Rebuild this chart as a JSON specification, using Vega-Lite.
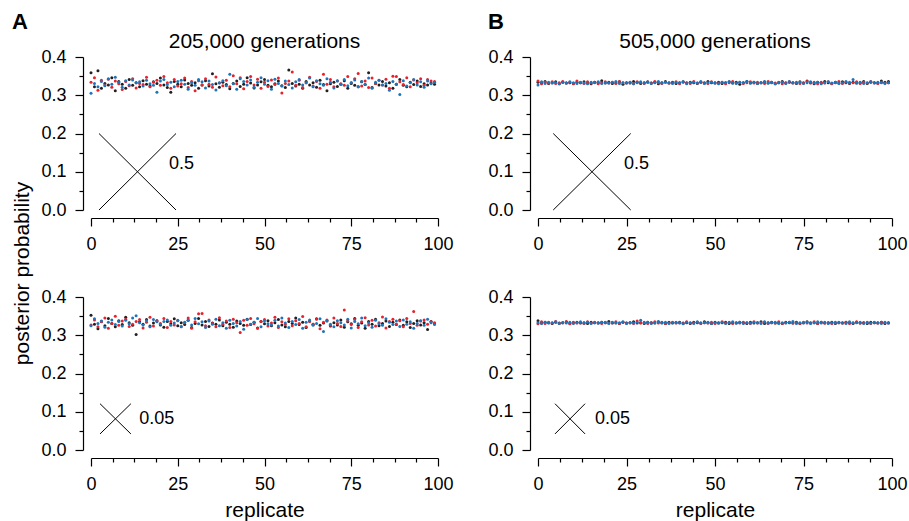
{
"$schema":"https://vega.github.io/schema/vega-lite/v6.json",
"padding":{"left":11,"top":11,"right":5,"bottom":5},
"config":{"font":"Liberation Sans","view":{"stroke":null},
"axis":{"grid":false,"offset":8,"domainColor":"#000","tickColor":"#000","labelColor":"#000","titleColor":"#000","labelFontSize":18,"titleFontSize":21,"titleFontWeight":"normal","labelFlush":false,"labelOverlap":false,"domainWidth":1.2,"tickWidth":1.2},
"title":{"fontSize":21,"fontWeight":"normal","color":"#000"}},
"datasets":{
"a":[
{"r":0,"s":"k","v":0.359},{"r":1,"s":"k","v":0.322},{"r":2,"s":"k","v":0.364},{"r":3,"s":"k","v":0.318},{"r":4,"s":"k","v":0.331},{"r":5,"s":"k","v":0.327},{"r":6,"s":"k","v":0.346},{"r":7,"s":"k","v":0.312},{"r":8,"s":"k","v":0.336},{"r":9,"s":"k","v":0.329},
{"r":10,"s":"k","v":0.318},{"r":11,"s":"k","v":0.341},{"r":12,"s":"k","v":0.326},{"r":13,"s":"k","v":0.333},{"r":14,"s":"k","v":0.322},{"r":15,"s":"k","v":0.338},{"r":16,"s":"k","v":0.329},{"r":17,"s":"k","v":0.324},{"r":18,"s":"k","v":0.335},{"r":19,"s":"k","v":0.331},
{"r":20,"s":"k","v":0.345},{"r":21,"s":"k","v":0.327},{"r":22,"s":"k","v":0.320},{"r":23,"s":"k","v":0.308},{"r":24,"s":"k","v":0.336},{"r":25,"s":"k","v":0.329},{"r":26,"s":"k","v":0.322},{"r":27,"s":"k","v":0.340},{"r":28,"s":"k","v":0.331},{"r":29,"s":"k","v":0.326},
{"r":30,"s":"k","v":0.333},{"r":31,"s":"k","v":0.318},{"r":32,"s":"k","v":0.327},{"r":33,"s":"k","v":0.338},{"r":34,"s":"k","v":0.324},{"r":35,"s":"k","v":0.356},{"r":36,"s":"k","v":0.330},{"r":37,"s":"k","v":0.321},{"r":38,"s":"k","v":0.334},{"r":39,"s":"k","v":0.328},
{"r":40,"s":"k","v":0.317},{"r":41,"s":"k","v":0.331},{"r":42,"s":"k","v":0.337},{"r":43,"s":"k","v":0.323},{"r":44,"s":"k","v":0.329},{"r":45,"s":"k","v":0.346},{"r":46,"s":"k","v":0.332},{"r":47,"s":"k","v":0.319},{"r":48,"s":"k","v":0.327},{"r":49,"s":"k","v":0.335},
{"r":50,"s":"k","v":0.341},{"r":51,"s":"k","v":0.326},{"r":52,"s":"k","v":0.322},{"r":53,"s":"k","v":0.330},{"r":54,"s":"k","v":0.337},{"r":55,"s":"k","v":0.325},{"r":56,"s":"k","v":0.320},{"r":57,"s":"k","v":0.366},{"r":58,"s":"k","v":0.331},{"r":59,"s":"k","v":0.324},
{"r":60,"s":"k","v":0.329},{"r":61,"s":"k","v":0.318},{"r":62,"s":"k","v":0.336},{"r":63,"s":"k","v":0.327},{"r":64,"s":"k","v":0.333},{"r":65,"s":"k","v":0.321},{"r":66,"s":"k","v":0.339},{"r":67,"s":"k","v":0.328},{"r":68,"s":"k","v":0.312},{"r":69,"s":"k","v":0.330},
{"r":70,"s":"k","v":0.334},{"r":71,"s":"k","v":0.323},{"r":72,"s":"k","v":0.329},{"r":73,"s":"k","v":0.338},{"r":74,"s":"k","v":0.318},{"r":75,"s":"k","v":0.331},{"r":76,"s":"k","v":0.326},{"r":77,"s":"k","v":0.322},{"r":78,"s":"k","v":0.335},{"r":79,"s":"k","v":0.328},
{"r":80,"s":"k","v":0.359},{"r":81,"s":"k","v":0.320},{"r":82,"s":"k","v":0.331},{"r":83,"s":"k","v":0.327},{"r":84,"s":"k","v":0.336},{"r":85,"s":"k","v":0.324},{"r":86,"s":"k","v":0.333},{"r":87,"s":"k","v":0.318},{"r":88,"s":"k","v":0.329},{"r":89,"s":"k","v":0.341},
{"r":90,"s":"k","v":0.326},{"r":91,"s":"k","v":0.322},{"r":92,"s":"k","v":0.334},{"r":93,"s":"k","v":0.328},{"r":94,"s":"k","v":0.337},{"r":95,"s":"k","v":0.323},{"r":96,"s":"k","v":0.330},{"r":97,"s":"k","v":0.327},{"r":98,"s":"k","v":0.332},{"r":99,"s":"k","v":0.329},
{"r":0,"s":"e","v":0.334},{"r":1,"s":"e","v":0.346},{"r":2,"s":"e","v":0.313},{"r":3,"s":"e","v":0.339},{"r":4,"s":"e","v":0.327},{"r":5,"s":"e","v":0.342},{"r":6,"s":"e","v":0.321},{"r":7,"s":"e","v":0.337},{"r":8,"s":"e","v":0.330},{"r":9,"s":"e","v":0.315},
{"r":10,"s":"e","v":0.336},{"r":11,"s":"e","v":0.325},{"r":12,"s":"e","v":0.343},{"r":13,"s":"e","v":0.319},{"r":14,"s":"e","v":0.331},{"r":15,"s":"e","v":0.328},{"r":16,"s":"e","v":0.347},{"r":17,"s":"e","v":0.322},{"r":18,"s":"e","v":0.334},{"r":19,"s":"e","v":0.339},
{"r":20,"s":"e","v":0.326},{"r":21,"s":"e","v":0.349},{"r":22,"s":"e","v":0.333},{"r":23,"s":"e","v":0.318},{"r":24,"s":"e","v":0.341},{"r":25,"s":"e","v":0.324},{"r":26,"s":"e","v":0.330},{"r":27,"s":"e","v":0.345},{"r":28,"s":"e","v":0.320},{"r":29,"s":"e","v":0.336},
{"r":30,"s":"e","v":0.312},{"r":31,"s":"e","v":0.338},{"r":32,"s":"e","v":0.327},{"r":33,"s":"e","v":0.343},{"r":34,"s":"e","v":0.329},{"r":35,"s":"e","v":0.321},{"r":36,"s":"e","v":0.348},{"r":37,"s":"e","v":0.333},{"r":38,"s":"e","v":0.325},{"r":39,"s":"e","v":0.339},
{"r":40,"s":"e","v":0.322},{"r":41,"s":"e","v":0.351},{"r":42,"s":"e","v":0.330},{"r":43,"s":"e","v":0.346},{"r":44,"s":"e","v":0.317},{"r":45,"s":"e","v":0.336},{"r":46,"s":"e","v":0.349},{"r":47,"s":"e","v":0.327},{"r":48,"s":"e","v":0.342},{"r":49,"s":"e","v":0.318},
{"r":50,"s":"e","v":0.334},{"r":51,"s":"e","v":0.323},{"r":52,"s":"e","v":0.340},{"r":53,"s":"e","v":0.328},{"r":54,"s":"e","v":0.345},{"r":55,"s":"e","v":0.306},{"r":56,"s":"e","v":0.331},{"r":57,"s":"e","v":0.337},{"r":58,"s":"e","v":0.361},{"r":59,"s":"e","v":0.326},
{"r":60,"s":"e","v":0.339},{"r":61,"s":"e","v":0.320},{"r":62,"s":"e","v":0.333},{"r":63,"s":"e","v":0.347},{"r":64,"s":"e","v":0.324},{"r":65,"s":"e","v":0.336},{"r":66,"s":"e","v":0.318},{"r":67,"s":"e","v":0.355},{"r":68,"s":"e","v":0.329},{"r":69,"s":"e","v":0.341},
{"r":70,"s":"e","v":0.322},{"r":71,"s":"e","v":0.338},{"r":72,"s":"e","v":0.330},{"r":73,"s":"e","v":0.326},{"r":74,"s":"e","v":0.349},{"r":75,"s":"e","v":0.333},{"r":76,"s":"e","v":0.343},{"r":77,"s":"e","v":0.357},{"r":78,"s":"e","v":0.324},{"r":79,"s":"e","v":0.337},
{"r":80,"s":"e","v":0.320},{"r":81,"s":"e","v":0.345},{"r":82,"s":"e","v":0.331},{"r":83,"s":"e","v":0.339},{"r":84,"s":"e","v":0.327},{"r":85,"s":"e","v":0.342},{"r":86,"s":"e","v":0.318},{"r":87,"s":"e","v":0.350},{"r":88,"s":"e","v":0.349},{"r":89,"s":"e","v":0.335},
{"r":90,"s":"e","v":0.328},{"r":91,"s":"e","v":0.346},{"r":92,"s":"e","v":0.322},{"r":93,"s":"e","v":0.340},{"r":94,"s":"e","v":0.333},{"r":95,"s":"e","v":0.343},{"r":96,"s":"e","v":0.326},{"r":97,"s":"e","v":0.341},{"r":98,"s":"e","v":0.337},{"r":99,"s":"e","v":0.336},
{"r":0,"s":"b","v":0.305},{"r":1,"s":"b","v":0.331},{"r":2,"s":"b","v":0.322},{"r":3,"s":"b","v":0.336},{"r":4,"s":"b","v":0.325},{"r":5,"s":"b","v":0.343},{"r":6,"s":"b","v":0.329},{"r":7,"s":"b","v":0.347},{"r":8,"s":"b","v":0.334},{"r":9,"s":"b","v":0.321},
{"r":10,"s":"b","v":0.338},{"r":11,"s":"b","v":0.327},{"r":12,"s":"b","v":0.340},{"r":13,"s":"b","v":0.333},{"r":14,"s":"b","v":0.335},{"r":15,"s":"b","v":0.324},{"r":16,"s":"b","v":0.339},{"r":17,"s":"b","v":0.330},{"r":18,"s":"b","v":0.326},{"r":19,"s":"b","v":0.308},
{"r":20,"s":"b","v":0.337},{"r":21,"s":"b","v":0.341},{"r":22,"s":"b","v":0.328},{"r":23,"s":"b","v":0.334},{"r":24,"s":"b","v":0.322},{"r":25,"s":"b","v":0.336},{"r":26,"s":"b","v":0.339},{"r":27,"s":"b","v":0.329},{"r":28,"s":"b","v":0.316},{"r":29,"s":"b","v":0.333},
{"r":30,"s":"b","v":0.326},{"r":31,"s":"b","v":0.341},{"r":32,"s":"b","v":0.335},{"r":33,"s":"b","v":0.319},{"r":34,"s":"b","v":0.337},{"r":35,"s":"b","v":0.328},{"r":36,"s":"b","v":0.314},{"r":37,"s":"b","v":0.332},{"r":38,"s":"b","v":0.338},{"r":39,"s":"b","v":0.325},
{"r":40,"s":"b","v":0.355},{"r":41,"s":"b","v":0.330},{"r":42,"s":"b","v":0.316},{"r":43,"s":"b","v":0.343},{"r":44,"s":"b","v":0.336},{"r":45,"s":"b","v":0.327},{"r":46,"s":"b","v":0.340},{"r":47,"s":"b","v":0.321},{"r":48,"s":"b","v":0.334},{"r":49,"s":"b","v":0.346},
{"r":50,"s":"b","v":0.329},{"r":51,"s":"b","v":0.338},{"r":52,"s":"b","v":0.316},{"r":53,"s":"b","v":0.342},{"r":54,"s":"b","v":0.331},{"r":55,"s":"b","v":0.324},{"r":56,"s":"b","v":0.337},{"r":57,"s":"b","v":0.328},{"r":58,"s":"b","v":0.319},{"r":59,"s":"b","v":0.335},
{"r":60,"s":"b","v":0.341},{"r":61,"s":"b","v":0.327},{"r":62,"s":"b","v":0.333},{"r":63,"s":"b","v":0.345},{"r":64,"s":"b","v":0.322},{"r":65,"s":"b","v":0.338},{"r":66,"s":"b","v":0.330},{"r":67,"s":"b","v":0.326},{"r":68,"s":"b","v":0.343},{"r":69,"s":"b","v":0.334},
{"r":70,"s":"b","v":0.319},{"r":71,"s":"b","v":0.337},{"r":72,"s":"b","v":0.329},{"r":73,"s":"b","v":0.341},{"r":74,"s":"b","v":0.325},{"r":75,"s":"b","v":0.333},{"r":76,"s":"b","v":0.340},{"r":77,"s":"b","v":0.322},{"r":78,"s":"b","v":0.336},{"r":79,"s":"b","v":0.328},
{"r":80,"s":"b","v":0.345},{"r":81,"s":"b","v":0.318},{"r":82,"s":"b","v":0.334},{"r":83,"s":"b","v":0.339},{"r":84,"s":"b","v":0.327},{"r":85,"s":"b","v":0.331},{"r":86,"s":"b","v":0.313},{"r":87,"s":"b","v":0.336},{"r":88,"s":"b","v":0.329},{"r":89,"s":"b","v":0.302},
{"r":90,"s":"b","v":0.338},{"r":91,"s":"b","v":0.324},{"r":92,"s":"b","v":0.333},{"r":93,"s":"b","v":0.341},{"r":94,"s":"b","v":0.327},{"r":95,"s":"b","v":0.335},{"r":96,"s":"b","v":0.321},{"r":97,"s":"b","v":0.337},{"r":98,"s":"b","v":0.330},{"r":99,"s":"b","v":0.334}
],
"c":[
{"r":0,"s":"k","v":0.352},{"r":1,"s":"k","v":0.329},{"r":2,"s":"k","v":0.317},{"r":3,"s":"k","v":0.336},{"r":4,"s":"k","v":0.325},{"r":5,"s":"k","v":0.344},{"r":6,"s":"k","v":0.331},{"r":7,"s":"k","v":0.322},{"r":8,"s":"k","v":0.338},{"r":9,"s":"k","v":0.328},
{"r":10,"s":"k","v":0.347},{"r":11,"s":"k","v":0.333},{"r":12,"s":"k","v":0.326},{"r":13,"s":"k","v":0.302},{"r":14,"s":"k","v":0.335},{"r":15,"s":"k","v":0.329},{"r":16,"s":"k","v":0.341},{"r":17,"s":"k","v":0.324},{"r":18,"s":"k","v":0.332},{"r":19,"s":"k","v":0.338},
{"r":20,"s":"k","v":0.327},{"r":21,"s":"k","v":0.321},{"r":22,"s":"k","v":0.336},{"r":23,"s":"k","v":0.330},{"r":24,"s":"k","v":0.343},{"r":25,"s":"k","v":0.325},{"r":26,"s":"k","v":0.333},{"r":27,"s":"k","v":0.328},{"r":28,"s":"k","v":0.339},{"r":29,"s":"k","v":0.320},
{"r":30,"s":"k","v":0.331},{"r":31,"s":"k","v":0.344},{"r":32,"s":"k","v":0.327},{"r":33,"s":"k","v":0.336},{"r":34,"s":"k","v":0.323},{"r":35,"s":"k","v":0.332},{"r":36,"s":"k","v":0.329},{"r":37,"s":"k","v":0.340},{"r":38,"s":"k","v":0.325},{"r":39,"s":"k","v":0.334},
{"r":40,"s":"k","v":0.329},{"r":41,"s":"k","v":0.321},{"r":42,"s":"k","v":0.337},{"r":43,"s":"k","v":0.331},{"r":44,"s":"k","v":0.326},{"r":45,"s":"k","v":0.342},{"r":46,"s":"k","v":0.328},{"r":47,"s":"k","v":0.334},{"r":48,"s":"k","v":0.319},{"r":49,"s":"k","v":0.336},
{"r":50,"s":"k","v":0.330},{"r":51,"s":"k","v":0.338},{"r":52,"s":"k","v":0.325},{"r":53,"s":"k","v":0.333},{"r":54,"s":"k","v":0.341},{"r":55,"s":"k","v":0.327},{"r":56,"s":"k","v":0.322},{"r":57,"s":"k","v":0.336},{"r":58,"s":"k","v":0.331},{"r":59,"s":"k","v":0.345},
{"r":60,"s":"k","v":0.328},{"r":61,"s":"k","v":0.334},{"r":62,"s":"k","v":0.320},{"r":63,"s":"k","v":0.337},{"r":64,"s":"k","v":0.329},{"r":65,"s":"k","v":0.343},{"r":66,"s":"k","v":0.326},{"r":67,"s":"k","v":0.332},{"r":68,"s":"k","v":0.338},{"r":69,"s":"k","v":0.324},
{"r":70,"s":"k","v":0.333},{"r":71,"s":"k","v":0.327},{"r":72,"s":"k","v":0.340},{"r":73,"s":"k","v":0.321},{"r":74,"s":"k","v":0.335},{"r":75,"s":"k","v":0.330},{"r":76,"s":"k","v":0.344},{"r":77,"s":"k","v":0.326},{"r":78,"s":"k","v":0.332},{"r":79,"s":"k","v":0.318},
{"r":80,"s":"k","v":0.336},{"r":81,"s":"k","v":0.329},{"r":82,"s":"k","v":0.342},{"r":83,"s":"k","v":0.325},{"r":84,"s":"k","v":0.331},{"r":85,"s":"k","v":0.337},{"r":86,"s":"k","v":0.323},{"r":87,"s":"k","v":0.334},{"r":88,"s":"k","v":0.328},{"r":89,"s":"k","v":0.340},
{"r":90,"s":"k","v":0.326},{"r":91,"s":"k","v":0.335},{"r":92,"s":"k","v":0.320},{"r":93,"s":"k","v":0.331},{"r":94,"s":"k","v":0.338},{"r":95,"s":"k","v":0.327},{"r":96,"s":"k","v":0.333},{"r":97,"s":"k","v":0.315},{"r":98,"s":"k","v":0.336},{"r":99,"s":"k","v":0.330},
{"r":0,"s":"e","v":0.327},{"r":1,"s":"e","v":0.340},{"r":2,"s":"e","v":0.322},{"r":3,"s":"e","v":0.335},{"r":4,"s":"e","v":0.345},{"r":5,"s":"e","v":0.318},{"r":6,"s":"e","v":0.331},{"r":7,"s":"e","v":0.350},{"r":8,"s":"e","v":0.326},{"r":9,"s":"e","v":0.337},
{"r":10,"s":"e","v":0.342},{"r":11,"s":"e","v":0.323},{"r":12,"s":"e","v":0.329},{"r":13,"s":"e","v":0.336},{"r":14,"s":"e","v":0.341},{"r":15,"s":"e","v":0.319},{"r":16,"s":"e","v":0.334},{"r":17,"s":"e","v":0.347},{"r":18,"s":"e","v":0.324},{"r":19,"s":"e","v":0.338},
{"r":20,"s":"e","v":0.331},{"r":21,"s":"e","v":0.344},{"r":22,"s":"e","v":0.320},{"r":23,"s":"e","v":0.336},{"r":24,"s":"e","v":0.327},{"r":25,"s":"e","v":0.339},{"r":26,"s":"e","v":0.322},{"r":27,"s":"e","v":0.333},{"r":28,"s":"e","v":0.345},{"r":29,"s":"e","v":0.318},
{"r":30,"s":"e","v":0.335},{"r":31,"s":"e","v":0.356},{"r":32,"s":"e","v":0.357},{"r":33,"s":"e","v":0.325},{"r":34,"s":"e","v":0.340},{"r":35,"s":"e","v":0.331},{"r":36,"s":"e","v":0.322},{"r":37,"s":"e","v":0.346},{"r":38,"s":"e","v":0.329},{"r":39,"s":"e","v":0.337},
{"r":40,"s":"e","v":0.320},{"r":41,"s":"e","v":0.342},{"r":42,"s":"e","v":0.333},{"r":43,"s":"e","v":0.307},{"r":44,"s":"e","v":0.339},{"r":45,"s":"e","v":0.326},{"r":46,"s":"e","v":0.344},{"r":47,"s":"e","v":0.330},{"r":48,"s":"e","v":0.318},{"r":49,"s":"e","v":0.336},
{"r":50,"s":"e","v":0.341},{"r":51,"s":"e","v":0.324},{"r":52,"s":"e","v":0.332},{"r":53,"s":"e","v":0.347},{"r":54,"s":"e","v":0.320},{"r":55,"s":"e","v":0.335},{"r":56,"s":"e","v":0.328},{"r":57,"s":"e","v":0.343},{"r":58,"s":"e","v":0.325},{"r":59,"s":"e","v":0.338},
{"r":60,"s":"e","v":0.331},{"r":61,"s":"e","v":0.349},{"r":62,"s":"e","v":0.322},{"r":63,"s":"e","v":0.336},{"r":64,"s":"e","v":0.329},{"r":65,"s":"e","v":0.342},{"r":66,"s":"e","v":0.317},{"r":67,"s":"e","v":0.334},{"r":68,"s":"e","v":0.340},{"r":69,"s":"e","v":0.326},
{"r":70,"s":"e","v":0.345},{"r":71,"s":"e","v":0.331},{"r":72,"s":"e","v":0.323},{"r":73,"s":"e","v":0.366},{"r":74,"s":"e","v":0.337},{"r":75,"s":"e","v":0.328},{"r":76,"s":"e","v":0.341},{"r":77,"s":"e","v":0.320},{"r":78,"s":"e","v":0.335},{"r":79,"s":"e","v":0.346},
{"r":80,"s":"e","v":0.327},{"r":81,"s":"e","v":0.339},{"r":82,"s":"e","v":0.324},{"r":83,"s":"e","v":0.333},{"r":84,"s":"e","v":0.348},{"r":85,"s":"e","v":0.319},{"r":86,"s":"e","v":0.336},{"r":87,"s":"e","v":0.342},{"r":88,"s":"e","v":0.329},{"r":89,"s":"e","v":0.338},
{"r":90,"s":"e","v":0.322},{"r":91,"s":"e","v":0.344},{"r":92,"s":"e","v":0.331},{"r":93,"s":"e","v":0.362},{"r":94,"s":"e","v":0.326},{"r":95,"s":"e","v":0.337},{"r":96,"s":"e","v":0.340},{"r":97,"s":"e","v":0.329},{"r":98,"s":"e","v":0.335},{"r":99,"s":"e","v":0.333},
{"r":0,"s":"b","v":0.325},{"r":1,"s":"b","v":0.343},{"r":2,"s":"b","v":0.331},{"r":3,"s":"b","v":0.337},{"r":4,"s":"b","v":0.321},{"r":5,"s":"b","v":0.334},{"r":6,"s":"b","v":0.340},{"r":7,"s":"b","v":0.328},{"r":8,"s":"b","v":0.336},{"r":9,"s":"b","v":0.324},
{"r":10,"s":"b","v":0.339},{"r":11,"s":"b","v":0.330},{"r":12,"s":"b","v":0.345},{"r":13,"s":"b","v":0.351},{"r":14,"s":"b","v":0.333},{"r":15,"s":"b","v":0.327},{"r":16,"s":"b","v":0.338},{"r":17,"s":"b","v":0.322},{"r":18,"s":"b","v":0.341},{"r":19,"s":"b","v":0.335},
{"r":20,"s":"b","v":0.329},{"r":21,"s":"b","v":0.336},{"r":22,"s":"b","v":0.340},{"r":23,"s":"b","v":0.326},{"r":24,"s":"b","v":0.332},{"r":25,"s":"b","v":0.338},{"r":26,"s":"b","v":0.323},{"r":27,"s":"b","v":0.334},{"r":28,"s":"b","v":0.339},{"r":29,"s":"b","v":0.327},
{"r":30,"s":"b","v":0.344},{"r":31,"s":"b","v":0.330},{"r":32,"s":"b","v":0.335},{"r":33,"s":"b","v":0.320},{"r":34,"s":"b","v":0.337},{"r":35,"s":"b","v":0.329},{"r":36,"s":"b","v":0.342},{"r":37,"s":"b","v":0.325},{"r":38,"s":"b","v":0.333},{"r":39,"s":"b","v":0.318},
{"r":40,"s":"b","v":0.339},{"r":41,"s":"b","v":0.331},{"r":42,"s":"b","v":0.324},{"r":43,"s":"b","v":0.336},{"r":44,"s":"b","v":0.316},{"r":45,"s":"b","v":0.341},{"r":46,"s":"b","v":0.329},{"r":47,"s":"b","v":0.334},{"r":48,"s":"b","v":0.344},{"r":49,"s":"b","v":0.322},
{"r":50,"s":"b","v":0.337},{"r":51,"s":"b","v":0.330},{"r":52,"s":"b","v":0.327},{"r":53,"s":"b","v":0.339},{"r":54,"s":"b","v":0.324},{"r":55,"s":"b","v":0.345},{"r":56,"s":"b","v":0.332},{"r":57,"s":"b","v":0.320},{"r":58,"s":"b","v":0.336},{"r":59,"s":"b","v":0.328},
{"r":60,"s":"b","v":0.341},{"r":61,"s":"b","v":0.318},{"r":62,"s":"b","v":0.334},{"r":63,"s":"b","v":0.340},{"r":64,"s":"b","v":0.326},{"r":65,"s":"b","v":0.331},{"r":66,"s":"b","v":0.343},{"r":67,"s":"b","v":0.310},{"r":68,"s":"b","v":0.337},{"r":69,"s":"b","v":0.329},
{"r":70,"s":"b","v":0.322},{"r":71,"s":"b","v":0.338},{"r":72,"s":"b","v":0.333},{"r":73,"s":"b","v":0.327},{"r":74,"s":"b","v":0.342},{"r":75,"s":"b","v":0.319},{"r":76,"s":"b","v":0.336},{"r":77,"s":"b","v":0.330},{"r":78,"s":"b","v":0.345},{"r":79,"s":"b","v":0.325},
{"r":80,"s":"b","v":0.333},{"r":81,"s":"b","v":0.321},{"r":82,"s":"b","v":0.339},{"r":83,"s":"b","v":0.330},{"r":84,"s":"b","v":0.326},{"r":85,"s":"b","v":0.343},{"r":86,"s":"b","v":0.334},{"r":87,"s":"b","v":0.328},{"r":88,"s":"b","v":0.337},{"r":89,"s":"b","v":0.323},
{"r":90,"s":"b","v":0.340},{"r":91,"s":"b","v":0.329},{"r":92,"s":"b","v":0.335},{"r":93,"s":"b","v":0.318},{"r":94,"s":"b","v":0.331},{"r":95,"s":"b","v":0.338},{"r":96,"s":"b","v":0.326},{"r":97,"s":"b","v":0.342},{"r":98,"s":"b","v":0.333},{"r":99,"s":"b","v":0.328}
],
"b":[
{"r":0,"s":"k","v":0.334},{"r":1,"s":"k","v":0.332},{"r":2,"s":"k","v":0.336},{"r":3,"s":"k","v":0.331},{"r":4,"s":"k","v":0.333},{"r":5,"s":"k","v":0.335},{"r":6,"s":"k","v":0.330},{"r":7,"s":"k","v":0.334},{"r":8,"s":"k","v":0.332},{"r":9,"s":"k","v":0.333},
{"r":10,"s":"k","v":0.331},{"r":11,"s":"k","v":0.334},{"r":12,"s":"k","v":0.333},{"r":13,"s":"k","v":0.335},{"r":14,"s":"k","v":0.332},{"r":15,"s":"k","v":0.330},{"r":16,"s":"k","v":0.334},{"r":17,"s":"k","v":0.333},{"r":18,"s":"k","v":0.338},{"r":19,"s":"k","v":0.332},
{"r":20,"s":"k","v":0.334},{"r":21,"s":"k","v":0.331},{"r":22,"s":"k","v":0.333},{"r":23,"s":"k","v":0.335},{"r":24,"s":"k","v":0.329},{"r":25,"s":"k","v":0.333},{"r":26,"s":"k","v":0.332},{"r":27,"s":"k","v":0.336},{"r":28,"s":"k","v":0.334},{"r":29,"s":"k","v":0.331},
{"r":30,"s":"k","v":0.333},{"r":31,"s":"k","v":0.335},{"r":32,"s":"k","v":0.332},{"r":33,"s":"k","v":0.334},{"r":34,"s":"k","v":0.330},{"r":35,"s":"k","v":0.333},{"r":36,"s":"k","v":0.336},{"r":37,"s":"k","v":0.332},{"r":38,"s":"k","v":0.334},{"r":39,"s":"k","v":0.331},
{"r":40,"s":"k","v":0.333},{"r":41,"s":"k","v":0.335},{"r":42,"s":"k","v":0.332},{"r":43,"s":"k","v":0.334},{"r":44,"s":"k","v":0.333},{"r":45,"s":"k","v":0.331},{"r":46,"s":"k","v":0.334},{"r":47,"s":"k","v":0.332},{"r":48,"s":"k","v":0.336},{"r":49,"s":"k","v":0.333},
{"r":50,"s":"k","v":0.332},{"r":51,"s":"k","v":0.334},{"r":52,"s":"k","v":0.331},{"r":53,"s":"k","v":0.333},{"r":54,"s":"k","v":0.335},{"r":55,"s":"k","v":0.332},{"r":56,"s":"k","v":0.334},{"r":57,"s":"k","v":0.329},{"r":58,"s":"k","v":0.333},{"r":59,"s":"k","v":0.336},
{"r":60,"s":"k","v":0.332},{"r":61,"s":"k","v":0.334},{"r":62,"s":"k","v":0.331},{"r":63,"s":"k","v":0.333},{"r":64,"s":"k","v":0.335},{"r":65,"s":"k","v":0.332},{"r":66,"s":"k","v":0.334},{"r":67,"s":"k","v":0.330},{"r":68,"s":"k","v":0.333},{"r":69,"s":"k","v":0.336},
{"r":70,"s":"k","v":0.332},{"r":71,"s":"k","v":0.334},{"r":72,"s":"k","v":0.333},{"r":73,"s":"k","v":0.331},{"r":74,"s":"k","v":0.335},{"r":75,"s":"k","v":0.332},{"r":76,"s":"k","v":0.337},{"r":77,"s":"k","v":0.333},{"r":78,"s":"k","v":0.330},{"r":79,"s":"k","v":0.334},
{"r":80,"s":"k","v":0.332},{"r":81,"s":"k","v":0.336},{"r":82,"s":"k","v":0.333},{"r":83,"s":"k","v":0.331},{"r":84,"s":"k","v":0.334},{"r":85,"s":"k","v":0.332},{"r":86,"s":"k","v":0.335},{"r":87,"s":"k","v":0.333},{"r":88,"s":"k","v":0.331},{"r":89,"s":"k","v":0.334},
{"r":90,"s":"k","v":0.332},{"r":91,"s":"k","v":0.333},{"r":92,"s":"k","v":0.336},{"r":93,"s":"k","v":0.331},{"r":94,"s":"k","v":0.334},{"r":95,"s":"k","v":0.333},{"r":96,"s":"k","v":0.332},{"r":97,"s":"k","v":0.337},{"r":98,"s":"k","v":0.334},{"r":99,"s":"k","v":0.336},
{"r":0,"s":"e","v":0.337},{"r":1,"s":"e","v":0.330},{"r":2,"s":"e","v":0.334},{"r":3,"s":"e","v":0.332},{"r":4,"s":"e","v":0.335},{"r":5,"s":"e","v":0.331},{"r":6,"s":"e","v":0.333},{"r":7,"s":"e","v":0.336},{"r":8,"s":"e","v":0.332},{"r":9,"s":"e","v":0.334},
{"r":10,"s":"e","v":0.330},{"r":11,"s":"e","v":0.337},{"r":12,"s":"e","v":0.333},{"r":13,"s":"e","v":0.331},{"r":14,"s":"e","v":0.335},{"r":15,"s":"e","v":0.332},{"r":16,"s":"e","v":0.334},{"r":17,"s":"e","v":0.330},{"r":18,"s":"e","v":0.333},{"r":19,"s":"e","v":0.335},
{"r":20,"s":"e","v":0.332},{"r":21,"s":"e","v":0.334},{"r":22,"s":"e","v":0.331},{"r":23,"s":"e","v":0.336},{"r":24,"s":"e","v":0.333},{"r":25,"s":"e","v":0.332},{"r":26,"s":"e","v":0.334},{"r":27,"s":"e","v":0.330},{"r":28,"s":"e","v":0.335},{"r":29,"s":"e","v":0.333},
{"r":30,"s":"e","v":0.331},{"r":31,"s":"e","v":0.334},{"r":32,"s":"e","v":0.332},{"r":33,"s":"e","v":0.336},{"r":34,"s":"e","v":0.333},{"r":35,"s":"e","v":0.331},{"r":36,"s":"e","v":0.334},{"r":37,"s":"e","v":0.332},{"r":38,"s":"e","v":0.333},{"r":39,"s":"e","v":0.335},
{"r":40,"s":"e","v":0.330},{"r":41,"s":"e","v":0.334},{"r":42,"s":"e","v":0.333},{"r":43,"s":"e","v":0.331},{"r":44,"s":"e","v":0.336},{"r":45,"s":"e","v":0.332},{"r":46,"s":"e","v":0.334},{"r":47,"s":"e","v":0.333},{"r":48,"s":"e","v":0.331},{"r":49,"s":"e","v":0.335},
{"r":50,"s":"e","v":0.333},{"r":51,"s":"e","v":0.332},{"r":52,"s":"e","v":0.334},{"r":53,"s":"e","v":0.330},{"r":54,"s":"e","v":0.333},{"r":55,"s":"e","v":0.336},{"r":56,"s":"e","v":0.332},{"r":57,"s":"e","v":0.334},{"r":58,"s":"e","v":0.331},{"r":59,"s":"e","v":0.333},
{"r":60,"s":"e","v":0.335},{"r":61,"s":"e","v":0.332},{"r":62,"s":"e","v":0.334},{"r":63,"s":"e","v":0.333},{"r":64,"s":"e","v":0.331},{"r":65,"s":"e","v":0.336},{"r":66,"s":"e","v":0.333},{"r":67,"s":"e","v":0.332},{"r":68,"s":"e","v":0.334},{"r":69,"s":"e","v":0.330},
{"r":70,"s":"e","v":0.333},{"r":71,"s":"e","v":0.335},{"r":72,"s":"e","v":0.332},{"r":73,"s":"e","v":0.334},{"r":74,"s":"e","v":0.331},{"r":75,"s":"e","v":0.333},{"r":76,"s":"e","v":0.336},{"r":77,"s":"e","v":0.332},{"r":78,"s":"e","v":0.334},{"r":79,"s":"e","v":0.330},
{"r":80,"s":"e","v":0.334},{"r":81,"s":"e","v":0.332},{"r":82,"s":"e","v":0.335},{"r":83,"s":"e","v":0.330},{"r":84,"s":"e","v":0.333},{"r":85,"s":"e","v":0.336},{"r":86,"s":"e","v":0.331},{"r":87,"s":"e","v":0.334},{"r":88,"s":"e","v":0.332},{"r":89,"s":"e","v":0.333},
{"r":90,"s":"e","v":0.335},{"r":91,"s":"e","v":0.331},{"r":92,"s":"e","v":0.334},{"r":93,"s":"e","v":0.332},{"r":94,"s":"e","v":0.336},{"r":95,"s":"e","v":0.333},{"r":96,"s":"e","v":0.331},{"r":97,"s":"e","v":0.334},{"r":98,"s":"e","v":0.332},{"r":99,"s":"e","v":0.333},
{"r":0,"s":"b","v":0.327},{"r":1,"s":"b","v":0.335},{"r":2,"s":"b","v":0.331},{"r":3,"s":"b","v":0.334},{"r":4,"s":"b","v":0.332},{"r":5,"s":"b","v":0.333},{"r":6,"s":"b","v":0.330},{"r":7,"s":"b","v":0.334},{"r":8,"s":"b","v":0.332},{"r":9,"s":"b","v":0.335},
{"r":10,"s":"b","v":0.333},{"r":11,"s":"b","v":0.331},{"r":12,"s":"b","v":0.334},{"r":13,"s":"b","v":0.332},{"r":14,"s":"b","v":0.330},{"r":15,"s":"b","v":0.334},{"r":16,"s":"b","v":0.333},{"r":17,"s":"b","v":0.335},{"r":18,"s":"b","v":0.331},{"r":19,"s":"b","v":0.333},
{"r":20,"s":"b","v":0.332},{"r":21,"s":"b","v":0.334},{"r":22,"s":"b","v":0.336},{"r":23,"s":"b","v":0.331},{"r":24,"s":"b","v":0.333},{"r":25,"s":"b","v":0.332},{"r":26,"s":"b","v":0.334},{"r":27,"s":"b","v":0.330},{"r":28,"s":"b","v":0.333},{"r":29,"s":"b","v":0.335},
{"r":30,"s":"b","v":0.332},{"r":31,"s":"b","v":0.334},{"r":32,"s":"b","v":0.331},{"r":33,"s":"b","v":0.333},{"r":34,"s":"b","v":0.336},{"r":35,"s":"b","v":0.332},{"r":36,"s":"b","v":0.334},{"r":37,"s":"b","v":0.333},{"r":38,"s":"b","v":0.331},{"r":39,"s":"b","v":0.334},
{"r":40,"s":"b","v":0.332},{"r":41,"s":"b","v":0.335},{"r":42,"s":"b","v":0.330},{"r":43,"s":"b","v":0.333},{"r":44,"s":"b","v":0.334},{"r":45,"s":"b","v":0.332},{"r":46,"s":"b","v":0.336},{"r":47,"s":"b","v":0.331},{"r":48,"s":"b","v":0.333},{"r":49,"s":"b","v":0.334},
{"r":50,"s":"b","v":0.332},{"r":51,"s":"b","v":0.330},{"r":52,"s":"b","v":0.334},{"r":53,"s":"b","v":0.333},{"r":54,"s":"b","v":0.335},{"r":55,"s":"b","v":0.332},{"r":56,"s":"b","v":0.331},{"r":57,"s":"b","v":0.334},{"r":58,"s":"b","v":0.333},{"r":59,"s":"b","v":0.336},
{"r":60,"s":"b","v":0.332},{"r":61,"s":"b","v":0.334},{"r":62,"s":"b","v":0.331},{"r":63,"s":"b","v":0.333},{"r":64,"s":"b","v":0.335},{"r":65,"s":"b","v":0.332},{"r":66,"s":"b","v":0.334},{"r":67,"s":"b","v":0.330},{"r":68,"s":"b","v":0.333},{"r":69,"s":"b","v":0.334},
{"r":70,"s":"b","v":0.331},{"r":71,"s":"b","v":0.336},{"r":72,"s":"b","v":0.333},{"r":73,"s":"b","v":0.332},{"r":74,"s":"b","v":0.334},{"r":75,"s":"b","v":0.331},{"r":76,"s":"b","v":0.333},{"r":77,"s":"b","v":0.335},{"r":78,"s":"b","v":0.332},{"r":79,"s":"b","v":0.334},
{"r":80,"s":"b","v":0.330},{"r":81,"s":"b","v":0.333},{"r":82,"s":"b","v":0.335},{"r":83,"s":"b","v":0.332},{"r":84,"s":"b","v":0.334},{"r":85,"s":"b","v":0.331},{"r":86,"s":"b","v":0.333},{"r":87,"s":"b","v":0.336},{"r":88,"s":"b","v":0.334},{"r":89,"s":"b","v":0.341},
{"r":90,"s":"b","v":0.332},{"r":91,"s":"b","v":0.334},{"r":92,"s":"b","v":0.331},{"r":93,"s":"b","v":0.333},{"r":94,"s":"b","v":0.335},{"r":95,"s":"b","v":0.332},{"r":96,"s":"b","v":0.334},{"r":97,"s":"b","v":0.333},{"r":98,"s":"b","v":0.331},{"r":99,"s":"b","v":0.333}
],
"d":[
{"r":0,"s":"k","v":0.338},{"r":1,"s":"k","v":0.332},{"r":2,"s":"k","v":0.334},{"r":3,"s":"k","v":0.333},{"r":4,"s":"k","v":0.331},{"r":5,"s":"k","v":0.334},{"r":6,"s":"k","v":0.332},{"r":7,"s":"k","v":0.333},{"r":8,"s":"k","v":0.335},{"r":9,"s":"k","v":0.331},
{"r":10,"s":"k","v":0.333},{"r":11,"s":"k","v":0.334},{"r":12,"s":"k","v":0.332},{"r":13,"s":"k","v":0.333},{"r":14,"s":"k","v":0.331},{"r":15,"s":"k","v":0.334},{"r":16,"s":"k","v":0.333},{"r":17,"s":"k","v":0.332},{"r":18,"s":"k","v":0.334},{"r":19,"s":"k","v":0.333},
{"r":20,"s":"k","v":0.336},{"r":21,"s":"k","v":0.332},{"r":22,"s":"k","v":0.333},{"r":23,"s":"k","v":0.331},{"r":24,"s":"k","v":0.334},{"r":25,"s":"k","v":0.332},{"r":26,"s":"k","v":0.333},{"r":27,"s":"k","v":0.335},{"r":28,"s":"k","v":0.332},{"r":29,"s":"k","v":0.333},
{"r":30,"s":"k","v":0.331},{"r":31,"s":"k","v":0.334},{"r":32,"s":"k","v":0.333},{"r":33,"s":"k","v":0.332},{"r":34,"s":"k","v":0.335},{"r":35,"s":"k","v":0.333},{"r":36,"s":"k","v":0.331},{"r":37,"s":"k","v":0.334},{"r":38,"s":"k","v":0.332},{"r":39,"s":"k","v":0.333},
{"r":40,"s":"k","v":0.334},{"r":41,"s":"k","v":0.332},{"r":42,"s":"k","v":0.333},{"r":43,"s":"k","v":0.331},{"r":44,"s":"k","v":0.334},{"r":45,"s":"k","v":0.333},{"r":46,"s":"k","v":0.332},{"r":47,"s":"k","v":0.335},{"r":48,"s":"k","v":0.333},{"r":49,"s":"k","v":0.331},
{"r":50,"s":"k","v":0.334},{"r":51,"s":"k","v":0.332},{"r":52,"s":"k","v":0.333},{"r":53,"s":"k","v":0.334},{"r":54,"s":"k","v":0.331},{"r":55,"s":"k","v":0.333},{"r":56,"s":"k","v":0.332},{"r":57,"s":"k","v":0.334},{"r":58,"s":"k","v":0.333},{"r":59,"s":"k","v":0.331},
{"r":60,"s":"k","v":0.334},{"r":61,"s":"k","v":0.332},{"r":62,"s":"k","v":0.333},{"r":63,"s":"k","v":0.335},{"r":64,"s":"k","v":0.331},{"r":65,"s":"k","v":0.333},{"r":66,"s":"k","v":0.334},{"r":67,"s":"k","v":0.332},{"r":68,"s":"k","v":0.333},{"r":69,"s":"k","v":0.331},
{"r":70,"s":"k","v":0.334},{"r":71,"s":"k","v":0.333},{"r":72,"s":"k","v":0.332},{"r":73,"s":"k","v":0.334},{"r":74,"s":"k","v":0.331},{"r":75,"s":"k","v":0.333},{"r":76,"s":"k","v":0.335},{"r":77,"s":"k","v":0.332},{"r":78,"s":"k","v":0.333},{"r":79,"s":"k","v":0.331},
{"r":80,"s":"k","v":0.334},{"r":81,"s":"k","v":0.332},{"r":82,"s":"k","v":0.333},{"r":83,"s":"k","v":0.334},{"r":84,"s":"k","v":0.331},{"r":85,"s":"k","v":0.333},{"r":86,"s":"k","v":0.332},{"r":87,"s":"k","v":0.334},{"r":88,"s":"k","v":0.333},{"r":89,"s":"k","v":0.331},
{"r":90,"s":"k","v":0.334},{"r":91,"s":"k","v":0.332},{"r":92,"s":"k","v":0.333},{"r":93,"s":"k","v":0.331},{"r":94,"s":"k","v":0.334},{"r":95,"s":"k","v":0.333},{"r":96,"s":"k","v":0.332},{"r":97,"s":"k","v":0.334},{"r":98,"s":"k","v":0.331},{"r":99,"s":"k","v":0.333},
{"r":0,"s":"e","v":0.330},{"r":1,"s":"e","v":0.335},{"r":2,"s":"e","v":0.331},{"r":3,"s":"e","v":0.334},{"r":4,"s":"e","v":0.332},{"r":5,"s":"e","v":0.336},{"r":6,"s":"e","v":0.331},{"r":7,"s":"e","v":0.333},{"r":8,"s":"e","v":0.335},{"r":9,"s":"e","v":0.330},
{"r":10,"s":"e","v":0.334},{"r":11,"s":"e","v":0.332},{"r":12,"s":"e","v":0.333},{"r":13,"s":"e","v":0.331},{"r":14,"s":"e","v":0.335},{"r":15,"s":"e","v":0.332},{"r":16,"s":"e","v":0.334},{"r":17,"s":"e","v":0.333},{"r":18,"s":"e","v":0.331},{"r":19,"s":"e","v":0.334},
{"r":20,"s":"e","v":0.332},{"r":21,"s":"e","v":0.333},{"r":22,"s":"e","v":0.335},{"r":23,"s":"e","v":0.331},{"r":24,"s":"e","v":0.334},{"r":25,"s":"e","v":0.332},{"r":26,"s":"e","v":0.333},{"r":27,"s":"e","v":0.331},{"r":28,"s":"e","v":0.337},{"r":29,"s":"e","v":0.332},
{"r":30,"s":"e","v":0.334},{"r":31,"s":"e","v":0.331},{"r":32,"s":"e","v":0.333},{"r":33,"s":"e","v":0.335},{"r":34,"s":"e","v":0.332},{"r":35,"s":"e","v":0.334},{"r":36,"s":"e","v":0.331},{"r":37,"s":"e","v":0.333},{"r":38,"s":"e","v":0.334},{"r":39,"s":"e","v":0.332},
{"r":40,"s":"e","v":0.333},{"r":41,"s":"e","v":0.331},{"r":42,"s":"e","v":0.335},{"r":43,"s":"e","v":0.332},{"r":44,"s":"e","v":0.333},{"r":45,"s":"e","v":0.334},{"r":46,"s":"e","v":0.331},{"r":47,"s":"e","v":0.333},{"r":48,"s":"e","v":0.332},{"r":49,"s":"e","v":0.334},
{"r":50,"s":"e","v":0.331},{"r":51,"s":"e","v":0.333},{"r":52,"s":"e","v":0.335},{"r":53,"s":"e","v":0.332},{"r":54,"s":"e","v":0.334},{"r":55,"s":"e","v":0.331},{"r":56,"s":"e","v":0.333},{"r":57,"s":"e","v":0.332},{"r":58,"s":"e","v":0.334},{"r":59,"s":"e","v":0.333},
{"r":60,"s":"e","v":0.331},{"r":61,"s":"e","v":0.335},{"r":62,"s":"e","v":0.332},{"r":63,"s":"e","v":0.333},{"r":64,"s":"e","v":0.334},{"r":65,"s":"e","v":0.331},{"r":66,"s":"e","v":0.333},{"r":67,"s":"e","v":0.332},{"r":68,"s":"e","v":0.335},{"r":69,"s":"e","v":0.331},
{"r":70,"s":"e","v":0.333},{"r":71,"s":"e","v":0.334},{"r":72,"s":"e","v":0.332},{"r":73,"s":"e","v":0.333},{"r":74,"s":"e","v":0.331},{"r":75,"s":"e","v":0.334},{"r":76,"s":"e","v":0.332},{"r":77,"s":"e","v":0.333},{"r":78,"s":"e","v":0.335},{"r":79,"s":"e","v":0.331},
{"r":80,"s":"e","v":0.334},{"r":81,"s":"e","v":0.332},{"r":82,"s":"e","v":0.333},{"r":83,"s":"e","v":0.331},{"r":84,"s":"e","v":0.334},{"r":85,"s":"e","v":0.333},{"r":86,"s":"e","v":0.332},{"r":87,"s":"e","v":0.334},{"r":88,"s":"e","v":0.331},{"r":89,"s":"e","v":0.333},
{"r":90,"s":"e","v":0.335},{"r":91,"s":"e","v":0.332},{"r":92,"s":"e","v":0.333},{"r":93,"s":"e","v":0.334},{"r":94,"s":"e","v":0.331},{"r":95,"s":"e","v":0.333},{"r":96,"s":"e","v":0.332},{"r":97,"s":"e","v":0.334},{"r":98,"s":"e","v":0.333},{"r":99,"s":"e","v":0.332},
{"r":0,"s":"b","v":0.333},{"r":1,"s":"b","v":0.331},{"r":2,"s":"b","v":0.334},{"r":3,"s":"b","v":0.332},{"r":4,"s":"b","v":0.333},{"r":5,"s":"b","v":0.335},{"r":6,"s":"b","v":0.331},{"r":7,"s":"b","v":0.333},{"r":8,"s":"b","v":0.332},{"r":9,"s":"b","v":0.334},
{"r":10,"s":"b","v":0.331},{"r":11,"s":"b","v":0.333},{"r":12,"s":"b","v":0.335},{"r":13,"s":"b","v":0.332},{"r":14,"s":"b","v":0.334},{"r":15,"s":"b","v":0.331},{"r":16,"s":"b","v":0.333},{"r":17,"s":"b","v":0.332},{"r":18,"s":"b","v":0.334},{"r":19,"s":"b","v":0.333},
{"r":20,"s":"b","v":0.331},{"r":21,"s":"b","v":0.334},{"r":22,"s":"b","v":0.332},{"r":23,"s":"b","v":0.333},{"r":24,"s":"b","v":0.335},{"r":25,"s":"b","v":0.331},{"r":26,"s":"b","v":0.333},{"r":27,"s":"b","v":0.332},{"r":28,"s":"b","v":0.334},{"r":29,"s":"b","v":0.339},
{"r":30,"s":"b","v":0.332},{"r":31,"s":"b","v":0.334},{"r":32,"s":"b","v":0.331},{"r":33,"s":"b","v":0.333},{"r":34,"s":"b","v":0.335},{"r":35,"s":"b","v":0.332},{"r":36,"s":"b","v":0.334},{"r":37,"s":"b","v":0.331},{"r":38,"s":"b","v":0.333},{"r":39,"s":"b","v":0.334},
{"r":40,"s":"b","v":0.332},{"r":41,"s":"b","v":0.330},{"r":42,"s":"b","v":0.334},{"r":43,"s":"b","v":0.333},{"r":44,"s":"b","v":0.331},{"r":45,"s":"b","v":0.335},{"r":46,"s":"b","v":0.332},{"r":47,"s":"b","v":0.333},{"r":48,"s":"b","v":0.334},{"r":49,"s":"b","v":0.331},
{"r":50,"s":"b","v":0.333},{"r":51,"s":"b","v":0.332},{"r":52,"s":"b","v":0.334},{"r":53,"s":"b","v":0.331},{"r":54,"s":"b","v":0.333},{"r":55,"s":"b","v":0.335},{"r":56,"s":"b","v":0.332},{"r":57,"s":"b","v":0.334},{"r":58,"s":"b","v":0.331},{"r":59,"s":"b","v":0.333},
{"r":60,"s":"b","v":0.332},{"r":61,"s":"b","v":0.334},{"r":62,"s":"b","v":0.333},{"r":63,"s":"b","v":0.331},{"r":64,"s":"b","v":0.335},{"r":65,"s":"b","v":0.332},{"r":66,"s":"b","v":0.333},{"r":67,"s":"b","v":0.334},{"r":68,"s":"b","v":0.331},{"r":69,"s":"b","v":0.333},
{"r":70,"s":"b","v":0.332},{"r":71,"s":"b","v":0.334},{"r":72,"s":"b","v":0.336},{"r":73,"s":"b","v":0.331},{"r":74,"s":"b","v":0.333},{"r":75,"s":"b","v":0.332},{"r":76,"s":"b","v":0.334},{"r":77,"s":"b","v":0.331},{"r":78,"s":"b","v":0.333},{"r":79,"s":"b","v":0.335},
{"r":80,"s":"b","v":0.332},{"r":81,"s":"b","v":0.334},{"r":82,"s":"b","v":0.331},{"r":83,"s":"b","v":0.333},{"r":84,"s":"b","v":0.332},{"r":85,"s":"b","v":0.334},{"r":86,"s":"b","v":0.333},{"r":87,"s":"b","v":0.331},{"r":88,"s":"b","v":0.335},{"r":89,"s":"b","v":0.332},
{"r":90,"s":"b","v":0.333},{"r":91,"s":"b","v":0.334},{"r":92,"s":"b","v":0.331},{"r":93,"s":"b","v":0.333},{"r":94,"s":"b","v":0.332},{"r":95,"s":"b","v":0.334},{"r":96,"s":"b","v":0.333},{"r":97,"s":"b","v":0.331},{"r":98,"s":"b","v":0.334},{"r":99,"s":"b","v":0.332}
]
},
"hconcat":[
{"title":{"text":"A","anchor":"start","fontWeight":"bold","fontSize":22,"offset":-3},
 "bounds":"flush","spacing":87,
 "vconcat":[
 {"width":347,"height":153,"title":{"text":"205,000 generations","anchor":"middle","offset":-4},
  "encoding":{
   "x":{"field":"r","type":"quantitative","scale":{"domain":[0,100],"nice":false,"zero":false},
        "axis":{"title":null,"values":[0,6.25,12.5,18.75,25,31.25,37.5,43.75,50,56.25,62.5,68.75,75,81.25,87.5,93.75,100],"labelExpr":"datum.value % 25 === 0 ? datum.label : ''","tickSize":{"condition":{"test":"datum.value % 25 === 0","value":8},"value":4},"labelPadding":9}},
   "y":{"field":"v","type":"quantitative","scale":{"domain":[0,0.4],"nice":false,"zero":false},
        "axis":{"title":"posterior probability","titleY":216,"titlePadding":8,"values":[0,0.05,0.1,0.15,0.2,0.25,0.3,0.35,0.4],"labelExpr":"abs(datum.value*10-round(datum.value*10))<0.001 ? format(datum.value,'.1f') : ''","tickSize":{"condition":{"test":"abs(datum.value*10-round(datum.value*10))<0.001","value":8},"value":4},"labelPadding":9}}},
  "layer":[
   {"data":{"name":"a"},"mark":{"type":"circle","size":9,"opacity":1},"encoding":{"color":{"field":"s","type":"nominal","scale":{"domain":["k","e","b"],"range":["#231f20","#e8212b","#1b75bc"]},"legend":null}}},
   {"data":{"values":[{"v":0.329}]},"mark":{"type":"rule","color":"#3a3a3a","strokeWidth":1.5},"encoding":{"x":{"datum":-2.3},"x2":{"datum":100}}},
   {"data":{"values":[{"r":2.3,"v":0.2,"r2":24.5,"v2":0},{"r":2.3,"v":0,"r2":24.5,"v2":0.2}]},"mark":{"type":"rule","color":"#000","strokeWidth":1},"encoding":{"x2":{"field":"r2"},"y2":{"field":"v2"}}},
   {"data":{"values":[{"r":22.5,"v":0.121,"t":"0.5"}]},"mark":{"type":"text","align":"left","baseline":"middle","fontSize":18,"color":"#000"},"encoding":{"text":{"field":"t"}}}
  ]},
 {"width":347,"height":153,
  "encoding":{
   "x":{"field":"r","type":"quantitative","scale":{"domain":[0,100],"nice":false,"zero":false},
        "axis":{"title":"replicate","values":[0,6.25,12.5,18.75,25,31.25,37.5,43.75,50,56.25,62.5,68.75,75,81.25,87.5,93.75,100],"labelExpr":"datum.value % 25 === 0 ? datum.label : ''","tickSize":{"condition":{"test":"datum.value % 25 === 0","value":8},"value":4},"labelPadding":9,"titlePadding":6}},
   "y":{"field":"v","type":"quantitative","scale":{"domain":[0,0.4],"nice":false,"zero":false},
        "axis":{"title":null,"values":[0,0.05,0.1,0.15,0.2,0.25,0.3,0.35,0.4],"labelExpr":"abs(datum.value*10-round(datum.value*10))<0.001 ? format(datum.value,'.1f') : ''","tickSize":{"condition":{"test":"abs(datum.value*10-round(datum.value*10))<0.001","value":8},"value":4},"labelPadding":9}}},
  "layer":[
   {"data":{"name":"c"},"mark":{"type":"circle","size":9,"opacity":1},"encoding":{"color":{"field":"s","type":"nominal","scale":{"domain":["k","e","b"],"range":["#231f20","#e8212b","#1b75bc"]},"legend":null}}},
   {"data":{"values":[{"v":0.331}]},"mark":{"type":"rule","color":"#3a3a3a","strokeWidth":1.5},"encoding":{"x":{"datum":-2.3},"x2":{"datum":100}}},
   {"data":{"values":[{"r":2.6,"v":0.121,"r2":11.5,"v2":0.042},{"r":2.6,"v":0.042,"r2":11.5,"v2":0.121}]},"mark":{"type":"rule","color":"#000","strokeWidth":1},"encoding":{"x2":{"field":"r2"},"y2":{"field":"v2"}}},
   {"data":{"values":[{"r":13.9,"v":0.082,"t":"0.05"}]},"mark":{"type":"text","align":"left","baseline":"middle","fontSize":18,"color":"#000"},"encoding":{"text":{"field":"t"}}}
  ]}
 ]},
{"title":{"text":"B","anchor":"start","fontWeight":"bold","fontSize":22,"offset":-3},
 "bounds":"flush","spacing":87,
 "vconcat":[
 {"width":354,"height":153,"title":{"text":"505,000 generations","anchor":"middle","offset":-4},
  "encoding":{
   "x":{"field":"r","type":"quantitative","scale":{"domain":[0,100],"nice":false,"zero":false},
        "axis":{"title":null,"values":[0,6.25,12.5,18.75,25,31.25,37.5,43.75,50,56.25,62.5,68.75,75,81.25,87.5,93.75,100],"labelExpr":"datum.value % 25 === 0 ? datum.label : ''","tickSize":{"condition":{"test":"datum.value % 25 === 0","value":8},"value":4},"labelPadding":9}},
   "y":{"field":"v","type":"quantitative","scale":{"domain":[0,0.4],"nice":false,"zero":false},
        "axis":{"title":null,"values":[0,0.05,0.1,0.15,0.2,0.25,0.3,0.35,0.4],"labelExpr":"abs(datum.value*10-round(datum.value*10))<0.001 ? format(datum.value,'.1f') : ''","tickSize":{"condition":{"test":"abs(datum.value*10-round(datum.value*10))<0.001","value":8},"value":4},"labelPadding":9}}},
  "layer":[
   {"data":{"name":"b"},"mark":{"type":"circle","size":9,"opacity":1},"encoding":{"color":{"field":"s","type":"nominal","scale":{"domain":["k","e","b"],"range":["#231f20","#e8212b","#1b75bc"]},"legend":null}}},
   {"data":{"values":[{"v":0.333}]},"mark":{"type":"rule","color":"#3a3a3a","strokeWidth":1.5},"encoding":{"x":{"datum":-2.3},"x2":{"datum":100}}},
   {"data":{"values":[{"r":4.3,"v":0.2,"r2":26.2,"v2":0},{"r":4.3,"v":0,"r2":26.2,"v2":0.2}]},"mark":{"type":"rule","color":"#000","strokeWidth":1},"encoding":{"x2":{"field":"r2"},"y2":{"field":"v2"}}},
   {"data":{"values":[{"r":24.3,"v":0.121,"t":"0.5"}]},"mark":{"type":"text","align":"left","baseline":"middle","fontSize":18,"color":"#000"},"encoding":{"text":{"field":"t"}}}
  ]},
 {"width":354,"height":153,
  "encoding":{
   "x":{"field":"r","type":"quantitative","scale":{"domain":[0,100],"nice":false,"zero":false},
        "axis":{"title":"replicate","values":[0,6.25,12.5,18.75,25,31.25,37.5,43.75,50,56.25,62.5,68.75,75,81.25,87.5,93.75,100],"labelExpr":"datum.value % 25 === 0 ? datum.label : ''","tickSize":{"condition":{"test":"datum.value % 25 === 0","value":8},"value":4},"labelPadding":9,"titlePadding":6}},
   "y":{"field":"v","type":"quantitative","scale":{"domain":[0,0.4],"nice":false,"zero":false},
        "axis":{"title":null,"values":[0,0.05,0.1,0.15,0.2,0.25,0.3,0.35,0.4],"labelExpr":"abs(datum.value*10-round(datum.value*10))<0.001 ? format(datum.value,'.1f') : ''","tickSize":{"condition":{"test":"abs(datum.value*10-round(datum.value*10))<0.001","value":8},"value":4},"labelPadding":9}}},
  "layer":[
   {"data":{"name":"d"},"mark":{"type":"circle","size":9,"opacity":1},"encoding":{"color":{"field":"s","type":"nominal","scale":{"domain":["k","e","b"],"range":["#231f20","#e8212b","#1b75bc"]},"legend":null}}},
   {"data":{"values":[{"v":0.333}]},"mark":{"type":"rule","color":"#3a3a3a","strokeWidth":1.5},"encoding":{"x":{"datum":-2.3},"x2":{"datum":100}}},
   {"data":{"values":[{"r":4.8,"v":0.121,"r2":13.3,"v2":0.042},{"r":4.8,"v":0.042,"r2":13.3,"v2":0.121}]},"mark":{"type":"rule","color":"#000","strokeWidth":1},"encoding":{"x2":{"field":"r2"},"y2":{"field":"v2"}}},
   {"data":{"values":[{"r":16.1,"v":0.082,"t":"0.05"}]},"mark":{"type":"text","align":"left","baseline":"middle","fontSize":18,"color":"#000"},"encoding":{"text":{"field":"t"}}}
  ]}
 ]}
],
"spacing":33
}
